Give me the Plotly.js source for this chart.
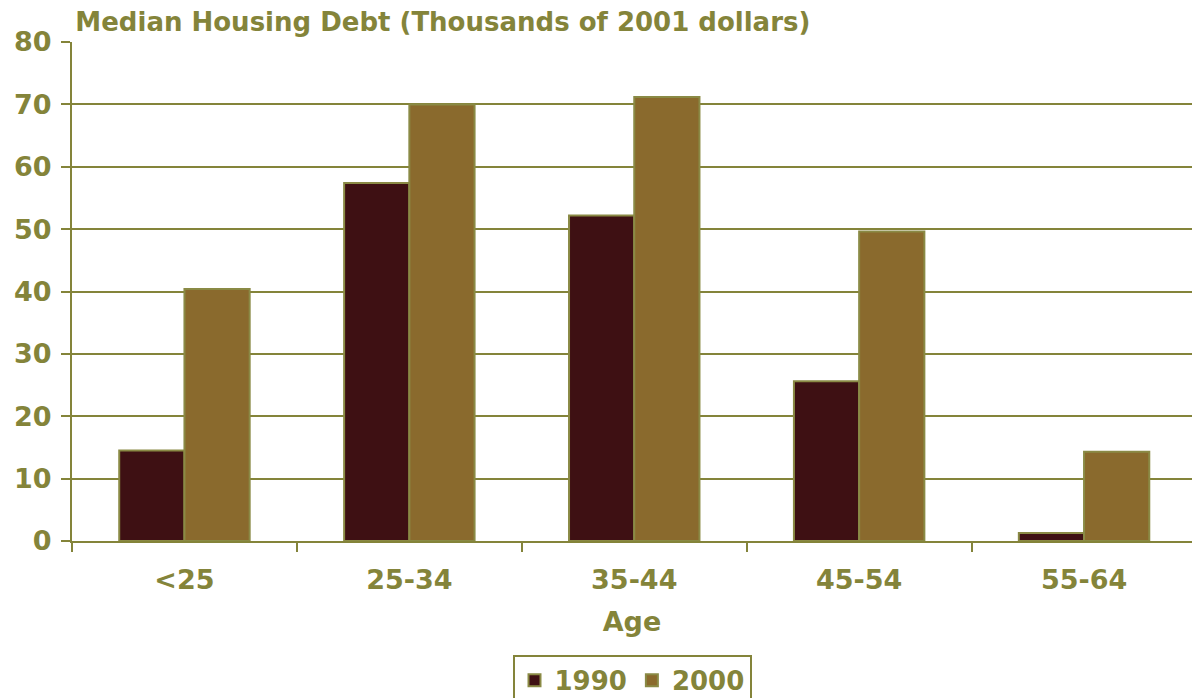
<!DOCTYPE html>
<html><head><meta charset="utf-8">
<script src="https://cdn.plot.ly/plotly-3.0.1.min.js"></script>
<style>html,body{margin:0;padding:0;background:#fff;}#chart{width:1192px;height:698px;}</style>
</head><body><div id="chart"></div>
<script>
const categories = ["<25", "25-34", "35-44", "45-54", "55-64"];
const debt1990 = [14.5, 57.4, 52.2, 25.6, 1.3];
const debt2000 = [40.4, 70.0, 71.2, 49.6, 14.3];
const yTicks = [0, 10, 20, 30, 40, 50, 60, 70, 80];

const olive = "#84843A";
const font = "DejaVu Sans, Verdana, sans-serif";

const traces = [
  {type: "bar", name: "1990", x: categories, y: debt1990,
   marker: {color: "#3E1013", line: {color: "#8A8A45", width: 2}}},
  {type: "bar", name: "2000", x: categories, y: debt2000,
   marker: {color: "#8A6A2D", line: {color: "#8A8A45", width: 2}}}
];

const layout = {
  width: 1192, height: 698,
  margin: {l: 72, r: 0, t: 42, b: 157, autoexpand: false},
  paper_bgcolor: "#fff", plot_bgcolor: "#fff",
  barmode: "group", bargap: 0.42, bargroupgap: 0,
  font: {family: font, color: olive, size: 26, weight: "bold"},
  title: {text: "<b>Median Housing Debt (Thousands of 2001 dollars)</b>",
    font: {family: font, size: 26, color: olive},
    x: 0.003, xanchor: "left", xref: "paper", y: 0.968, yanchor: "middle"},
  xaxis: {type: "category", range: [-0.5, 4.48], tickson: "boundaries",
    ticks: "outside", ticklen: 9, tickwidth: 2, tickcolor: olive,
    showline: true, linecolor: olive, linewidth: 2, showgrid: false,
    tickfont: {family: font, size: 27, color: olive, weight: "bold"},
    ticklabelstandoff: 14,
    title: {text: "<b>Age</b>", font: {family: font, size: 27, color: olive}, standoff: 18},
    fixedrange: true},
  yaxis: {range: [0, 80], tickvals: yTicks, ticks: "outside", ticklen: 9, tickwidth: 2,
    tickcolor: olive, showline: true, linecolor: olive, linewidth: 2,
    showgrid: true, gridcolor: olive, gridwidth: 2, zeroline: false,
    tickfont: {family: font, size: 27, color: olive, weight: "bold"},
    ticklabelstandoff: 4, fixedrange: true},
  showlegend: true,
  legend: {orientation: "h", x: 0.5, xanchor: "center", y: -0.228, yanchor: "top",
    bordercolor: olive, borderwidth: 2,
    font: {family: font, size: 26, color: olive, weight: "bold"},
    itemwidth: 30, tracegroupgap: 0}
};

Plotly.newPlot("chart", traces, layout, {displayModeBar: false, staticPlot: true});
</script></body></html>
